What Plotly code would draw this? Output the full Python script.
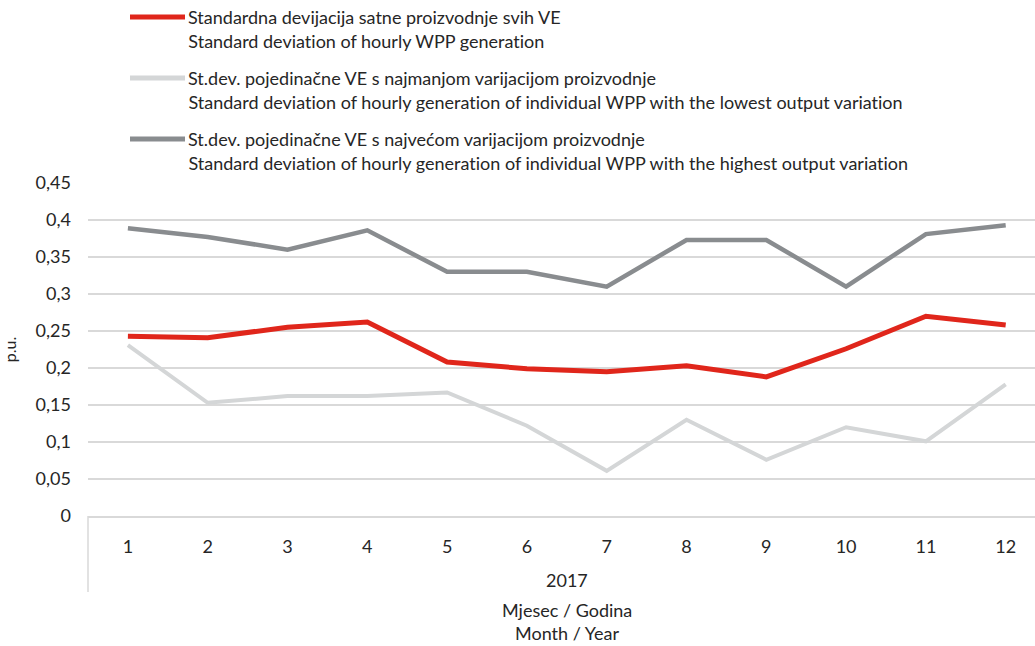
import plotly.graph_objects as go

# --- data ---
months = list(range(1, 13))
all_wpp = [0.243, 0.241, 0.255, 0.262, 0.208, 0.199, 0.195, 0.203, 0.188, 0.226, 0.270, 0.258]
lowest_wpp = [0.231, 0.153, 0.162, 0.162, 0.167, 0.122, 0.061, 0.130, 0.076, 0.120, 0.101, 0.178]
highest_wpp = [0.389, 0.377, 0.360, 0.386, 0.330, 0.330, 0.310, 0.373, 0.373, 0.310, 0.381, 0.393]
year_label = "2017"

names = [
    ("Standardna devijacija satne proizvodnje svih VE",
     "Standard deviation of hourly WPP generation"),
    ("St.dev. pojedinačne VE s najmanjom varijacijom proizvodnje",
     "Standard deviation of hourly generation of individual WPP with the lowest output variation"),
    ("St.dev. pojedinačne VE s najvećom varijacijom proizvodnje",
     "Standard deviation of hourly generation of individual WPP with the highest output variation"),
]
colors = ["#E0261B", "#D4D6D7", "#898C8F"]
widths = [5, 4, 4.5]

FONT = "Lato"
FS = 18
TXT = "#262626"
W, H = 1035, 646
L, R, T, B = 88, 0, 183, 130
pw, ph = W - L - R, H - T - B


def px(x):
    return (x - L) / pw


def py(y):
    return (H - B - y) / ph


fig = go.Figure()
# draw order: highest (dark) under, light, red on top
for i in [2, 1, 0]:
    ys = [all_wpp, lowest_wpp, highest_wpp][i]
    fig.add_trace(go.Scatter(x=months, y=ys, mode="lines", name=names[i][0],
                             line=dict(color=colors[i], width=widths[i]),
                             showlegend=False))

shapes = []
annotations = []
# manual legend
for i, (hr, en) in enumerate(names):
    y0 = 17 + 61 * i
    shapes.append(dict(type="line", xref="paper", yref="paper",
                       x0=px(130), x1=px(185), y0=py(y0), y1=py(y0),
                       line=dict(color=colors[i], width=5)))
    for j, t in enumerate([hr, en]):
        annotations.append(dict(text=t, xref="paper", yref="paper",
                                x=px(186), y=py(y0 + 24 * j), xanchor="left",
                                yanchor="middle", showarrow=False,
                                font=dict(family=FONT, size=FS, color=TXT)))

# category group divider under axis
shapes.append(dict(type="line", xref="paper", yref="paper", x0=0, x1=0,
                   y0=0, y1=py(592), line=dict(color="#D9D9D9", width=1.5)))

mid = px((88 + 1046) / 2)
for t, y in [(year_label, 580), ("Mjesec / Godina", 610), ("Month / Year", 633)]:
    annotations.append(dict(text=t, xref="paper", yref="paper", x=mid, y=py(y),
                            xanchor="center", yanchor="middle", showarrow=False,
                            font=dict(family=FONT, size=FS, color=TXT)))

fig.update_layout(
    width=W, height=H,
    margin=dict(l=L, r=R, t=T, b=B),
    paper_bgcolor="white", plot_bgcolor="white",
    separators=", ",
    font=dict(family=FONT, size=FS, color=TXT),
    shapes=shapes, annotations=annotations,
    xaxis=dict(tickmode="array", tickvals=months, ticktext=[str(m) for m in months],
               range=[0.5, 0.5 + pw / 79.8], showgrid=False, zeroline=False,
               showline=True, linecolor="#D9D9D9", linewidth=1.5,
               ticks="", ticklabelstandoff=14, fixedrange=True),
    yaxis=dict(range=[0, 0.45], dtick=0.05, showgrid=True, gridcolor="#D9D9D9",
               gridwidth=1.5, zeroline=False, showline=False, ticks="",
               ticklabelstandoff=16,
               title=dict(text="p.u.", standoff=18, font=dict(size=16))),
)

# no page margin, no ligatures (Lato turns "ti" into a glyph)
post = ("document.body.style.margin='0';"
        "var s=document.createElement('style');"
        "s.textContent='svg text{font-variant-ligatures:none;font-feature-settings:\"liga\" 0;}';"
        "document.head.appendChild(s);")
fig.write_html("out.html", post_script=post, config={"displayModeBar": False})
